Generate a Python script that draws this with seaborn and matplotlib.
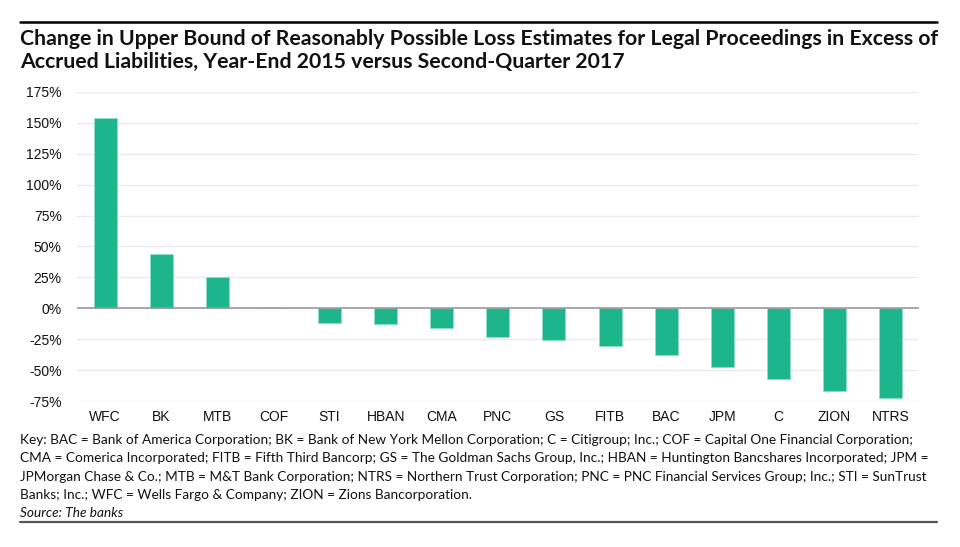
import pandas as pd
import matplotlib.pyplot as plt
import seaborn as sns
from matplotlib.ticker import FuncFormatter

# values (percent change)
banks = ['WFC', 'BK', 'MTB', 'COF', 'STI', 'HBAN', 'CMA', 'PNC',
         'GS', 'FITB', 'BAC', 'JPM', 'C', 'ZION', 'NTRS']
change_pct = [154, 44, 25, 0, -12, -13, -15.5, -23, -25.3, -30, -38, -47.5, -57.3, -66.7, -72.3]
y_ticks = [-75, -50, -25, 0, 25, 50, 75, 100, 125, 150, 175]

title = ('Change in Upper Bound of Reasonably Possible Loss Estimates for Legal Proceedings in Excess of\n'
         'Accrued Liabilities, Year-End 2015 versus Second-Quarter 2017')
key_lines = [
    'Key: BAC = Bank of America Corporation; BK = Bank of New York Mellon Corporation; C = Citigroup; Inc.; COF = Capital One Financial Corporation;',
    'CMA = Comerica Incorporated; FITB = Fifth Third Bancorp; GS = The Goldman Sachs Group, Inc.; HBAN = Huntington Bancshares Incorporated; JPM =',
    'JPMorgan Chase & Co.; MTB = M&T Bank Corporation; NTRS = Northern Trust Corporation; PNC = PNC Financial Services Group; Inc.; STI = SunTrust',
    'Banks; Inc.; WFC = Wells Fargo & Company; ZION = Zions Bancorporation.',
]
source = 'Source: The banks'

df = pd.DataFrame({'bank': banks, 'change': change_pct})

sns.set_style('white')
plt.rcParams['font.family'] = ['Liberation Sans', 'DejaVu Sans']

W, H = 960, 547
fig = plt.figure(figsize=(9.6, 5.47), dpi=100)
ax = fig.add_axes([0.0802, 0.2664, 0.8768, 0.566])

sns.barplot(data=df, x='bank', y='change', color='#1db58c', saturation=1,
            width=0.41, edgecolor='#8fe0c8', linewidth=0.6, ax=ax)

ax.set_ylim(-75, 175)
ax.set_yticks(y_ticks)
ax.yaxis.set_major_formatter(FuncFormatter(lambda v, p: f'{int(v)}%'))
ax.set_xlim(-0.5, len(banks) - 0.5)
ax.grid(axis='y', color='#ebebeb', linewidth=1)
ax.set_axisbelow(True)
ax.axhline(0, color='#9a9a9a', linewidth=1.2, zorder=1)
for s in ax.spines.values():
    s.set_visible(False)
ax.tick_params(axis='both', length=0, labelsize=10, colors='#111111')
ax.tick_params(axis='y', pad=11)
ax.tick_params(axis='x', pad=6)
ax.set_xlabel('')
ax.set_ylabel('')

renderer = fig.canvas.get_renderer()


def fit_text(t, width_px):
    # shrink/grow a text so its widest line spans width_px
    w = t.get_window_extent(renderer).width
    t.set_fontsize(t.get_fontsize() * width_px / w)


# title and rules
fig.add_artist(plt.Line2D([20 / W, 937 / W], [1 - 22 / H] * 2, color='black', linewidth=1.8))
t_title = fig.text(20 / W, 1 - 29 / H, title, ha='left', va='top', fontsize=15.5,
                   fontweight='bold', family=['Lato', 'DejaVu Sans'], linespacing=1.2,
                   color='#111111')
fit_text(t_title, 915)

key_font = ['Lato', 'DejaVu Sans']
key_texts = []
for i, line in enumerate(key_lines):
    t = fig.text(20 / W, 1 - (440 + i * 18.3) / H, line, ha='left', va='center',
                 fontsize=10, family=key_font, color='#111111')
    key_texts.append(t)
widest = max(key_texts[:3], key=lambda t: t.get_window_extent(renderer).width)
scale = 905 / widest.get_window_extent(renderer).width
for t in key_texts:
    t.set_fontsize(10 * scale)
fig.text(20 / W, 1 - 513 / H, source, ha='left', va='center', fontsize=10 * scale,
         family=key_font, style='italic', color='#111111')
fig.add_artist(plt.Line2D([20 / W, 937 / W], [1 - 522 / H] * 2, color='#555555', linewidth=1.6))

fig.savefig('out.png', dpi=100)
